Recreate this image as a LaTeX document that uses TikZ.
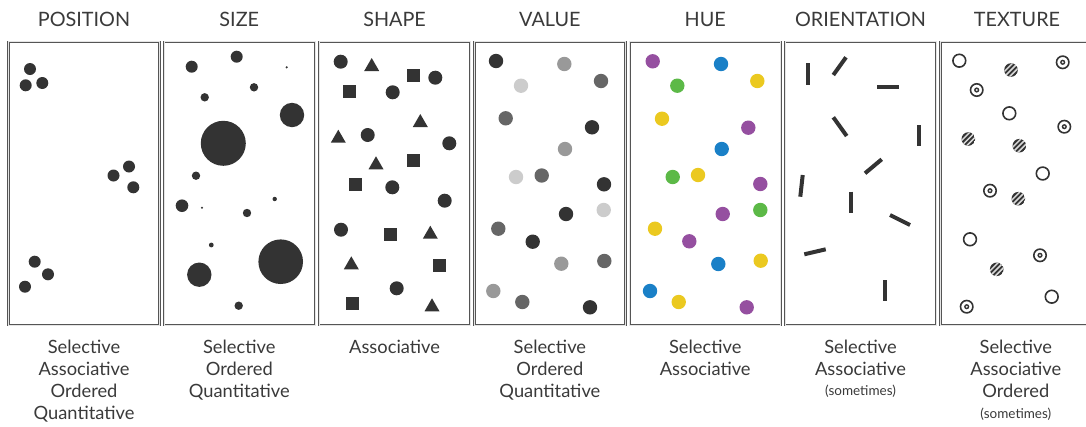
\documentclass[tikz,border=0pt]{standalone}
\usepackage{fontspec}
\setmainfont{Lato}
\definecolor{ink}{HTML}{333333}
\definecolor{vmid}{HTML}{666666}
\definecolor{vlt}{HTML}{999999}
\definecolor{vvlt}{HTML}{CCCCCC}
\definecolor{txt}{HTML}{3A3A3A}
\definecolor{bord}{HTML}{555555}
\definecolor{hpur}{HTML}{954FA0}
\definecolor{hblu}{HTML}{1A80C7}
\definecolor{hgrn}{HTML}{5CB947}
\definecolor{hyel}{HTML}{EBC920}
\newcommand\opendot[1]{\draw[texline, fill=white] (#1) circle (6.4);}
\newcommand\targetdot[1]{\draw[texline, fill=white] (#1) circle (6.2); \fill[ink] (#1) circle (2.6); \fill[white!85!gray] (#1) circle (1.1);}
\newcommand\hatchdot[1]{\begin{scope}\clip (#1) circle (6.8); \fill[ink] (#1) circle (6.8);
  \foreach \d in {-5.2,0,5.2} {\draw[shift={(#1)}, white!70!gray, line width=1.5pt] (\d-9,9) -- (\d+9,-9);}
  \end{scope}}
\begin{document}
\begin{tikzpicture}[x=1pt,y=-1pt,
  panel/.style={draw=bord, line width=0.9pt, double=white!80!gray, double distance=0.6pt},
  title/.style={anchor=base, text=txt, font=\fontsize{19.8}{22}\selectfont, inner sep=0pt},
  lab/.style={anchor=base, text=txt, font=\fontsize{18.3}{20}\selectfont, inner sep=0pt},
  small/.style={anchor=base, text=txt, font=\fontsize{13.5}{15}\selectfont, inner sep=0pt},
  texline/.style={draw=ink, line width=1.6pt},
  bar/.style={draw=ink, line width=4pt}]
\clip (0,0) rectangle (1086,426);
\fill[white] (0,0) rectangle (1086,426);
% panels
\foreach \i in {0,...,6} {
  \draw[panel] (8.5+155.3*\i,41.7) rectangle (159.5+155.3*\i,325);
}
% titles
\node[title] (t1) at (84,26.7) {POSITION};
\node[title] (t2) at (239.3,26.7) {SIZE};
\node[title] (t3) at (394.6,26.7) {SHAPE};
\node[title] (t4) at (549.9,26.7) {VALUE};
\node[title] (t5) at (705.2,26.7) {HUE};
\node[title] (t6) at (860.5,26.7) {ORIENTATION};
\node[title] (t7) at (1017,26.7) {TEXTURE};
% labels
\node[lab] (a1) at (84,353) {Selective};
\node[lab] (a2) at (84,375) {Associative};
\node[lab] (a3) at (84,397) {Ordered};
\node[lab] (a4) at (84,419) {Quantitative};
\node[lab] (b1) at (239.3,353) {Selective};
\node[lab] (b2) at (239.3,375) {Ordered};
\node[lab] (b3) at (239.3,397) {Quantitative};
\node[lab] (c1) at (394.6,353) {Associative};
\node[lab] (d1) at (549.9,353) {Selective};
\node[lab] (d2) at (549.9,375) {Ordered};
\node[lab] (d3) at (549.9,397) {Quantitative};
\node[lab] (e1) at (705.2,353) {Selective};
\node[lab] (e2) at (705.2,375) {Associative};
\node[lab] (f1) at (860.5,353) {Selective};
\node[lab] (f2) at (860.5,375) {Associative};
\node[small] (f3) at (860.5,395) {(sometimes)};
\node[lab] (g1) at (1015.8,353) {Selective};
\node[lab] (g2) at (1015.8,375) {Associative};
\node[lab] (g3) at (1015.8,397) {Ordered};
\node[small] (g4) at (1015.8,418) {(sometimes)};
% POSITION
\fill[ink] (30,69) circle (6) (25.7,85.3) circle (6) (42.3,83) circle (6)
  (129,166.5) circle (6) (113.5,175.5) circle (6) (133.3,187.3) circle (6)
  (34.7,261.7) circle (6) (48,274.3) circle (6) (25,286.7) circle (6);
% SIZE
\fill[ink] (191.7,66.7) circle (6) (236.7,56.7) circle (6) (286.7,67.3) circle (1.2)
  (254,87.3) circle (4.2) (204.7,97.3) circle (4.2) (292,115) circle (12.2)
  (223.3,143.3) circle (22.5) (196,175.7) circle (4.2)
  (182,205.7) circle (6.3) (202,207.7) circle (1.2) (247,213) circle (4.2)
  (274.7,199) circle (2.2) (211.3,245) circle (2.4) (199.3,274.7) circle (12.2)
  (280.7,261.7) circle (22.3) (238.7,305.7) circle (4.2);
% SHAPE
\fill[ink] (340.7,61.7) circle (7) (435.3,77.7) circle (7) (392.7,92.3) circle (7)
  (367.7,135) circle (7) (449.3,143.3) circle (7) (392.3,187.3) circle (7)
  (444.7,200.7) circle (7) (341,229.7) circle (7) (396.7,288.3) circle (7);
\foreach \x/\y in {413.7/75, 349.3/91.7, 413.7/160.7, 355.7/184.3, 390/234.7, 439.3/265.7, 352.3/303.7}
  {\fill[ink] (\x-6.5,\y-6.5) rectangle (\x+6.5,\y+6.5);}
\foreach \x/\y in {371.7/65, 420.3/121, 338.3/136.7, 376/163.3, 430.3/232.7, 351.3/263.3, 432/305.3}
  {\fill[ink] (\x-7.5,\y+6) -- (\x+7.5,\y+6) -- (\x,\y-7) -- cycle;}
% VALUE
\foreach \x/\y/\c in {496/61/ink, 521/85.7/vvlt, 564.3/64/vlt, 601/81/vmid, 505.7/118.3/vmid,
  592/127.3/ink, 565/149/vlt, 516/177/vvlt, 541.7/175.5/vmid, 604/184.3/ink, 603.7/210/vvlt,
  566/214/ink, 498.3/228.7/vmid, 532.7/241.7/ink, 561.3/263.7/vlt, 604.3/261/vmid,
  493.3/291/vlt, 522.3/302/vmid, 590/307.3/ink}
  {\fill[\c] (\x,\y) circle (7.2);}
% HUE
\foreach \x/\y/\c in {652.7/61.3/hpur, 721/64/hblu, 677.3/85.7/hgrn, 757.3/81/hyel,
  662/118.7/hyel, 748.3/127.7/hpur, 721.7/149/hblu, 672.7/177/hgrn, 698/175/hyel,
  760.3/184/hpur, 722.7/214/hpur, 760.3/210/hgrn, 655/228.7/hyel, 689.3/241.3/hpur,
  718.3/264/hblu, 760.7/260.7/hyel, 650/291/hblu, 678.7/302/hyel, 746.7/307.3/hpur}
  {\fill[\c] (\x,\y) circle (7.2);}
% ORIENTATION
\draw[bar] (807.7,63) -- (807.7,85);
\draw[bar] (833.3,75) -- (846,57.3);
\draw[bar] (877.3,86.7) -- (899.3,86.7);
\draw[bar] (833.3,117.3) -- (846.7,136);
\draw[bar] (919.3,125) -- (919.3,146);
\draw[bar] (865,173.3) -- (881.7,159.3);
\draw[bar] (802.7,175) -- (800.3,196.7);
\draw[bar] (850.7,191.7) -- (850.7,213.3);
\draw[bar] (890,215) -- (910,225);
\draw[bar] (804.3,254.3) -- (825.7,249.3);
\draw[bar] (884.7,280) -- (884.7,301);
% TEXTURE
\opendot{959.3,60.7}
\hatchdot{1011,70}
\targetdot{1062.7,62.3}
\targetdot{976.7,90}
\opendot{1009.3,113.3}
\targetdot{1064.3,126.7}
\hatchdot{968.3,139}
\hatchdot{1019.3,145.7}
\opendot{1042.7,173.5}
\targetdot{990,190.7}
\hatchdot{1018.3,198.7}
\opendot{970,239.3}
\targetdot{1040,255.3}
\hatchdot{996.7,269.3}
\opendot{1051.7,296.7}
\targetdot{966.7,306.7}
\end{tikzpicture}
\end{document}
